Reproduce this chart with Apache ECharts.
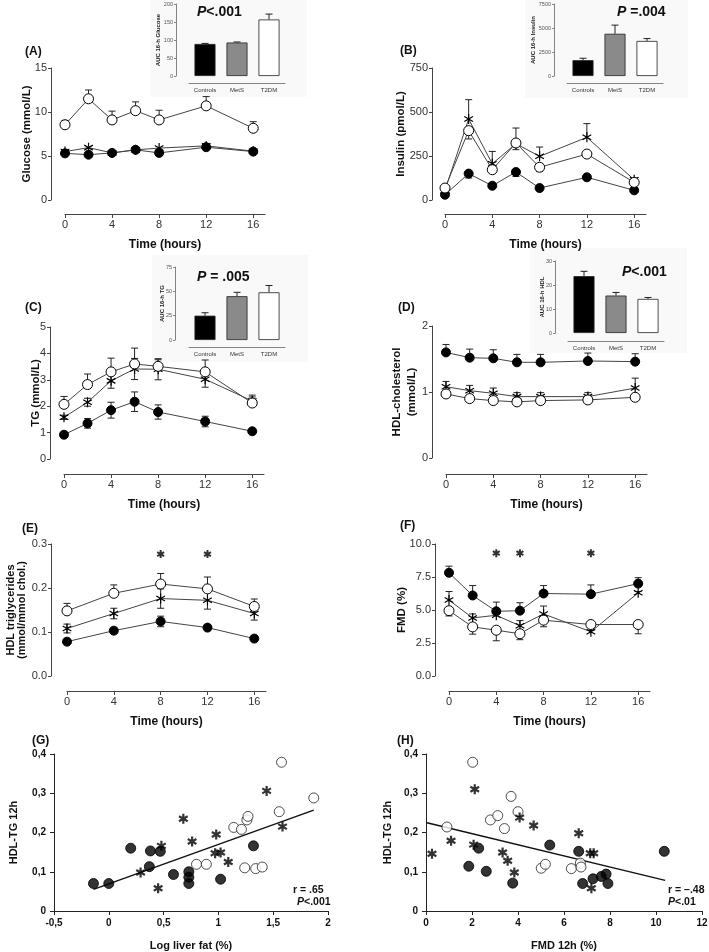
<!DOCTYPE html>
<html><head><meta charset="utf-8">
<script src="https://cdn.jsdelivr.net/npm/echarts@6/dist/echarts.min.js"></script>
<style>html,body{margin:0;padding:0;background:#fff}#c{width:709px;height:952px}</style>
</head><body><div id="c"></div>
<script>
const FONT = '"Liberation Sans", Arial, Helvetica, sans-serif';
// ================= DATA =================
const timesFull = [0, 2, 4, 6, 8, 12, 16];
const timesE = [0, 4, 8, 12, 16];
const timeTicks = [0, 4, 8, 12, 16];
const groupNames = ['Controls', 'MetS', 'T2DM'];

// (A) Glucose (mmol/L)
const glucoseControls = [5.3, 5.15, 5.35, 5.7, 5.35, 6.0, 5.5];
const glucoseMetS     = [5.5, 5.95, 5.35, 5.7, 5.9, 6.15, 5.55];
const glucoseT2DM     = [8.55, 11.5, 9.1, 10.15, 9.1, 10.7, 8.15];
const glucoseT2DMErr  = [0.5, 1.0, 1.0, 1.0, 1.1, 1.05, 0.75];
const aucGlucose      = [89, 93, 157];
const aucGlucoseErr   = [1.5, 1.5, 15];

// (B) Insulin (pmol/L)
const insulinControls    = [30, 150, 81, 159, 68, 129, 55];
const insulinControlsErr = [5, 25, 10, 25, 8, 10, 5];
const insulinMetS        = [55, 460, 206, 320, 248, 356, 115];
const insulinMetSErr     = [10, 110, 70, 89, 53, 78, 10];
const insulinT2DM        = [68, 394, 172, 324, 186, 261, 100];
const insulinT2DMErr     = [10, 47, 15, 38, 23, 10, 10];
const aucInsulin         = [1650, 4400, 3650];
const aucInsulinErr      = [200, 900, 250];

// (C) TG (mmol/L)
const tgControls    = [0.92, 1.35, 1.85, 2.17, 1.78, 1.42, 1.05];
const tgControlsErr = [0.05, 0.18, 0.3, 0.37, 0.27, 0.2, 0.05];
const tgMetS        = [1.58, 2.15, 2.96, 3.41, 3.4, 3.02, 2.2];
const tgMetSErr     = [0.08, 0.15, 0.28, 0.4, 0.4, 0.3, 0.15];
const tgT2DM        = [2.07, 2.82, 3.3, 3.6, 3.51, 3.3, 2.12];
const tgT2DMErr     = [0.3, 0.4, 0.52, 0.6, 0.25, 0.45, 0.3];
const aucTG         = [25, 45, 49];
const aucTGErr      = [3, 4, 7];

// (D) HDL-cholesterol (mmol/L)
const hdlControls    = [1.6, 1.52, 1.51, 1.45, 1.45, 1.47, 1.46];
const hdlControlsErr = [0.12, 0.13, 0.13, 0.12, 0.12, 0.12, 0.12];
const hdlMetS        = [1.08, 1.02, 0.98, 0.93, 0.93, 0.93, 1.06];
const hdlMetSErr     = [0.08, 0.08, 0.08, 0.06, 0.06, 0.06, 0.15];
const hdlT2DM        = [0.97, 0.9, 0.87, 0.85, 0.87, 0.88, 0.92];
const aucHDL         = [23.7, 15.6, 14.2];
const aucHDLErr      = [2, 1.3, 0.6];

// (E) HDL triglycerides (mmol/mmol chol.)
const hdltgControls    = [0.078, 0.103, 0.124, 0.11, 0.085];
const hdltgControlsErr = [0.004, 0.006, 0.012, 0.007, 0.006];
const hdltgMetS        = [0.108, 0.142, 0.176, 0.172, 0.142];
const hdltgMetSErr     = [0.01, 0.012, 0.022, 0.02, 0.015];
const hdltgT2DM        = [0.148, 0.188, 0.209, 0.198, 0.158];
const hdltgT2DMErr     = [0.017, 0.019, 0.024, 0.027, 0.017];
const sigTimesE = [8, 12];
const sigLevelE = 0.277;

// (F) FMD (%)
const fmdControls    = [7.82, 6.1, 4.9, 4.95, 6.25, 6.2, 7.0];
const fmdControlsErr = [0.5, 0.75, 0.7, 0.6, 0.6, 0.7, 0.45];
const fmdMetS        = [5.75, 4.4, 4.6, 3.8, 4.7, 3.35, 6.3];
const fmdMetSErr     = [0.65, 0.3, 0.5, 0.4, 0.6, 0.1, 0.1];
const fmdT2DM        = [4.95, 3.72, 3.47, 3.2, 4.23, 3.9, 3.9];
const fmdT2DMErr     = [0.4, 0.55, 0.8, 0.45, 0.5, 0.2, 0.7];
const sigTimesF = [4, 6, 12];
const sigLevelF = 9.3;

// (G) HDL-TG 12h vs Log liver fat (%)
const gControlsX = [-0.14, 0.0, 0.2, 0.38, 0.37, 0.47, 0.59, 0.73, 0.73, 0.73, 1.02, 1.32];
const gControlsY = [0.07, 0.07, 0.16, 0.153, 0.113, 0.152, 0.093, 0.10, 0.086, 0.07, 0.081, 0.166];
const gMetSX = [0.29, 0.45, 0.48, 0.68, 0.76, 0.98, 0.97, 1.02, 1.09, 1.44, 1.585];
const gMetSY = [0.098, 0.058, 0.166, 0.235, 0.177, 0.195, 0.147, 0.149, 0.125, 0.306, 0.215];
const gT2DMX = [0.80, 0.89, 1.14, 1.21, 1.26, 1.27, 1.24, 1.34, 1.40, 1.555, 1.576, 1.87];
const gT2DMY = [0.119, 0.119, 0.213, 0.208, 0.232, 0.241, 0.110, 0.108, 0.112, 0.253, 0.379, 0.288];
const gFitX = [-0.14, 1.87];
const gFitY = [0.055, 0.257];

// (H) HDL-TG 12h vs FMD 12h (%)
const hControlsX = [1.86, 2.29, 2.62, 3.77, 5.38, 6.64, 6.81, 7.26, 7.62, 7.83, 7.91, 10.36];
const hControlsY = [0.114, 0.160, 0.101, 0.071, 0.168, 0.152, 0.070, 0.082, 0.088, 0.094, 0.070, 0.152];
const hMetSX = [0.26, 1.09, 2.12, 2.07, 3.33, 3.55, 3.84, 4.07, 4.68, 6.64, 7.14, 7.29, 7.19];
const hMetSY = [0.146, 0.179, 0.310, 0.169, 0.149, 0.128, 0.098, 0.238, 0.218, 0.198, 0.147, 0.147, 0.058];
const hT2DMX = [0.91, 2.03, 2.80, 3.12, 3.41, 3.70, 4.0, 5.01, 5.19, 6.32, 6.71, 6.74];
const hT2DMY = [0.214, 0.379, 0.232, 0.243, 0.210, 0.292, 0.253, 0.109, 0.119, 0.108, 0.122, 0.112];
const hFitX = [0.04, 10.4];
const hFitY = [0.225, 0.078];

// ================= BUILD =================
const AX = '#444', TX = '#333';
const STAR = 'path://M0,-1L0,1M-0.866,-0.5L0.866,0.5M-0.866,0.5L0.866,-0.5';
const MK = {
  Controls: { symbol: 'circle', symbolSize: 9, itemStyle: { color: '#000', borderColor: '#000', borderWidth: 1 } },
  MetS: { symbol: STAR, symbolSize: 10, itemStyle: { color: '#000', borderColor: '#000', borderWidth: 1.2 } },
  T2DM: { symbol: 'circle', symbolSize: 10, itemStyle: { color: '#fff', borderColor: '#000', borderWidth: 1 } }
};
const grids = [], xAxes = [], yAxes = [], series = [];
const pairs = (xs, ys) => xs.map((x, i) => [x, ys[i]]);
const errData = (xs, ys, es, dir) => xs.map((x, i) => [x, ys[i], es[i], dir]);

function errRender(params, api) {
  const x = api.value(0), y = api.value(1), e = api.value(2), dir = api.value(3);
  const lo = dir > 0 ? y : y - e;
  const hi = dir < 0 ? y : y + e;
  const pLo = api.coord([x, lo]), pHi = api.coord([x, hi]);
  const hw = 3.5, st = { stroke: '#222', lineWidth: 1 };
  const ch = [{ type: 'line', shape: { x1: pLo[0], y1: pLo[1], x2: pHi[0], y2: pHi[1] }, style: st }];
  if (dir >= 0) ch.push({ type: 'line', shape: { x1: pHi[0] - hw, y1: pHi[1], x2: pHi[0] + hw, y2: pHi[1] }, style: st });
  if (dir <= 0) ch.push({ type: 'line', shape: { x1: pLo[0] - hw, y1: pLo[1], x2: pLo[0] + hw, y2: pLo[1] }, style: st });
  return { type: 'group', children: ch };
}

function linePanel(cfg) {
  const gi = grids.length;
  grids.push({ left: cfg.left, top: cfg.top, width: cfg.width, height: cfg.height, containLabel: false, outerBoundsMode: 'none' });
  xAxes.push({
    type: 'value', gridIndex: gi, min: 0, max: 17, interval: 4, offset: cfg.xOff, position: 'bottom',
    axisLine: { show: true, onZero: false, lineStyle: { color: AX, width: 1 } },
    axisTick: { show: true, length: 4, lineStyle: { color: AX }, customValues: timeTicks },
    axisLabel: { fontSize: 11, color: TX, fontFamily: FONT, margin: 5, customValues: timeTicks },
    splitLine: { show: false },
    name: 'Time (hours)', nameLocation: 'middle', nameGap: 25, nameMoveOverlap: false,
    nameTextStyle: { fontSize: 12, fontWeight: 'bold', color: '#111', fontFamily: FONT }
  });
  yAxes.push({
    type: 'value', gridIndex: gi, min: 0, max: cfg.ymax, interval: cfg.yint, offset: cfg.yOff, position: 'left',
    axisLine: { show: true, onZero: false, lineStyle: { color: AX, width: 1 } },
    axisTick: { show: true, length: 3, lineStyle: { color: AX } },
    axisLabel: { fontSize: 11, color: TX, fontFamily: FONT, margin: 4, formatter: cfg.yfmt || (v => String(v)) },
    splitLine: { show: false },
    name: cfg.yname, nameLocation: 'middle', nameRotate: 90, nameGap: cfg.yNameGap, nameMoveOverlap: false,
    nameTextStyle: { fontSize: cfg.yNameSize || 11.5, fontWeight: 'bold', color: '#111', fontFamily: FONT, lineHeight: cfg.yNameLH || 15 }
  });
  cfg.groups.forEach(g => {
    if (g.err) {
      series.push({ type: 'custom', xAxisIndex: gi, yAxisIndex: gi, z: 1, silent: true,
        renderItem: errRender, encode: { x: 0, y: 1 }, data: errData(cfg.times, g.values, g.err, g.dir) });
    }
  });
  cfg.groups.forEach(g => {
    const mk = MK[g.name];
    series.push({ type: 'line', xAxisIndex: gi, yAxisIndex: gi, z: 3, silent: true, animation: false,
      data: pairs(cfg.times, g.values), symbol: mk.symbol, symbolSize: mk.symbolSize, showAllSymbol: true,
      symbolKeepAspect: true, itemStyle: mk.itemStyle, lineStyle: { color: '#444', width: 1 } });
  });
  if (cfg.sig) {
    series.push({ type: 'scatter', xAxisIndex: gi, yAxisIndex: gi, z: 3, silent: true,
      data: cfg.sig.map(t => [t, cfg.sigLevel]), symbol: STAR, symbolSize: 8, symbolKeepAspect: true,
      itemStyle: { color: '#000', borderColor: '#000', borderWidth: 2 } });
  }
}

function insetPanel(cfg) {
  const gi = grids.length;
  grids.push({ left: cfg.left, top: cfg.top, width: 96, height: cfg.height, containLabel: false, outerBoundsMode: 'none' });
  xAxes.push({
    type: 'category', gridIndex: gi, data: groupNames, offset: cfg.xOff, position: 'bottom',
    axisLine: { show: true, onZero: false, lineStyle: { color: '#666', width: 0.8 } },
    axisTick: { show: false },
    axisLabel: { fontSize: 6, color: TX, fontFamily: FONT, margin: 4, interval: 0 }
  });
  yAxes.push({
    type: 'value', gridIndex: gi, min: 0, max: cfg.ymax, interval: cfg.yint, offset: cfg.yOff, position: 'left',
    axisLine: { show: true, onZero: false, lineStyle: { color: '#666', width: 0.8 } },
    axisTick: { show: true, length: 2, lineStyle: { color: '#666', width: 0.8 } },
    axisLabel: { fontSize: 5.5, color: '#555', fontFamily: FONT, margin: 3, formatter: v => String(v) },
    splitLine: { show: false },
    name: cfg.yname, nameLocation: 'middle', nameRotate: 90, nameGap: cfg.yNameGap, nameMoveOverlap: false,
    nameTextStyle: { fontSize: 6, fontWeight: 'bold', color: '#222', fontFamily: FONT }
  });
  const fills = ['#000', '#8a8a8a', '#fff'];
  series.push({ type: 'custom', xAxisIndex: gi, yAxisIndex: gi, z: 1, silent: true,
    renderItem: errRender, encode: { x: 0, y: 1 }, data: cfg.values.map((v, i) => [i, v, cfg.err[i], 1]) });
  series.push({ type: 'bar', xAxisIndex: gi, yAxisIndex: gi, z: 2, silent: true, barWidth: 21,
    data: cfg.values.map((v, i) => ({ value: v, itemStyle: { color: fills[i], borderColor: '#222', borderWidth: 0.8 } })) });
}

function scatterPanel(cfg) {
  const gi = grids.length;
  grids.push({ left: cfg.left, top: cfg.top, width: cfg.width, height: cfg.height, containLabel: false, outerBoundsMode: 'none' });
  const comma = v => (v === 0 ? '0' : String(+v.toFixed(1)).replace('.', ','));
  xAxes.push({
    type: 'value', gridIndex: gi, min: cfg.xmin, max: cfg.xmax, interval: cfg.xint, position: 'bottom',
    axisLine: { show: true, onZero: false, lineStyle: { color: '#222', width: 1 } },
    axisTick: { show: true, length: 4, lineStyle: { color: '#222' } },
    axisLabel: { fontSize: 10, fontWeight: 'bold', color: '#111', fontFamily: FONT, margin: 7, formatter: comma },
    splitLine: { show: false },
    name: cfg.xname, nameLocation: 'middle', nameGap: 29, nameMoveOverlap: false,
    nameTextStyle: { fontSize: 11, fontWeight: 'bold', color: '#111', fontFamily: FONT }
  });
  yAxes.push({
    type: 'value', gridIndex: gi, min: 0, max: 0.4, interval: 0.1, position: 'left',
    axisLine: { show: true, onZero: false, lineStyle: { color: '#222', width: 1 } },
    axisTick: { show: true, length: 4, lineStyle: { color: '#222' } },
    axisLabel: { fontSize: 10, fontWeight: 'bold', color: '#111', fontFamily: FONT, margin: 8, formatter: comma },
    splitLine: { show: false },
    name: 'HDL-TG 12h', nameLocation: 'middle', nameRotate: 90, nameGap: cfg.yNameGap, nameMoveOverlap: false,
    nameTextStyle: { fontSize: 11, fontWeight: 'bold', color: '#111', fontFamily: FONT }
  });
  series.push({ type: 'line', xAxisIndex: gi, yAxisIndex: gi, z: 2, silent: true, symbol: 'none',
    data: pairs(cfg.fitX, cfg.fitY), lineStyle: { color: '#111', width: 1.5 } });
  const sty = {
    Controls: { symbol: 'circle', symbolSize: 10, itemStyle: { color: '#000', borderColor: '#000', borderWidth: 1 } },
    T2DM: { symbol: 'circle', symbolSize: 10, itemStyle: { color: '#fff', borderColor: '#222', borderWidth: 1 } },
    MetS: { symbol: STAR, symbolSize: 10, itemStyle: { color: '#000', borderColor: '#000', borderWidth: 2.2 } }
  };
  cfg.groups.forEach(g => {
    const s = sty[g.name];
    series.push({ type: 'scatter', xAxisIndex: gi, yAxisIndex: gi, z: 3, silent: true,
      data: pairs(g.x, g.y), symbol: s.symbol, symbolSize: s.symbolSize, symbolKeepAspect: true, itemStyle: s.itemStyle });
  });
}

// Panels
linePanel({ left: 65, top: 68, width: 200, height: 132, xOff: 14, yOff: 14, ymax: 15, yint: 5,
  yname: 'Glucose (mmol/L)', yNameGap: 17, times: timesFull,
  groups: [
    { name: 'Controls', values: glucoseControls },
    { name: 'MetS', values: glucoseMetS },
    { name: 'T2DM', values: glucoseT2DM, err: glucoseT2DMErr, dir: 1 }] });
linePanel({ left: 445, top: 68, width: 201, height: 132, xOff: 14, yOff: 13, ymax: 750, yint: 250,
  yname: 'Insulin (pmol/L)', yNameGap: 24, times: timesFull,
  groups: [
    { name: 'Controls', values: insulinControls, err: insulinControlsErr, dir: -1 },
    { name: 'MetS', values: insulinMetS, err: insulinMetSErr, dir: 1 },
    { name: 'T2DM', values: insulinT2DM, err: insulinT2DMErr, dir: -1 }] });
linePanel({ left: 64, top: 327, width: 200, height: 132, xOff: 15, yOff: 14, ymax: 5, yint: 1,
  yname: 'TG (mmol/L)', yNameGap: 7, times: timesFull,
  groups: [
    { name: 'Controls', values: tgControls, err: tgControlsErr, dir: 0 },
    { name: 'MetS', values: tgMetS, err: tgMetSErr, dir: 0 },
    { name: 'T2DM', values: tgT2DM, err: tgT2DMErr, dir: 1 }] });
linePanel({ left: 446, top: 326, width: 201, height: 132, xOff: 16, yOff: 14, ymax: 2, yint: 1,
  yname: 'HDL-cholesterol\n(mmol/L)', yNameGap: 13, times: timesFull,
  groups: [
    { name: 'Controls', values: hdlControls, err: hdlControlsErr, dir: 1 },
    { name: 'MetS', values: hdlMetS, err: hdlMetSErr, dir: 1 },
    { name: 'T2DM', values: hdlT2DM }] });
linePanel({ left: 67, top: 544, width: 199, height: 132, xOff: 15, yOff: 16, ymax: 0.3, yint: 0.1,
  yfmt: v => v.toFixed(1), yname: 'HDL triglycerides\n(mmol/mmol chol.)', yNameGap: 23, yNameSize: 11, yNameLH: 11.5,
  times: timesE, sig: sigTimesE, sigLevel: sigLevelE,
  groups: [
    { name: 'Controls', values: hdltgControls, err: hdltgControlsErr, dir: 0 },
    { name: 'MetS', values: hdltgMetS, err: hdltgMetSErr, dir: 0 },
    { name: 'T2DM', values: hdltgT2DM, err: hdltgT2DMErr, dir: 1 }] });
linePanel({ left: 449, top: 544, width: 201, height: 132, xOff: 15, yOff: 14, ymax: 10, yint: 2.5,
  yfmt: v => v.toFixed(1), yname: 'FMD (%)', yNameGap: 26, times: timesFull,
  sig: sigTimesF, sigLevel: sigLevelF,
  groups: [
    { name: 'Controls', values: fmdControls, err: fmdControlsErr, dir: 1 },
    { name: 'MetS', values: fmdMetS, err: fmdMetSErr, dir: 1 },
    { name: 'T2DM', values: fmdT2DM, err: fmdT2DMErr, dir: -1 }] });

insetPanel({ left: 189, top: 4, height: 72, xOff: 7, yOff: 13, ymax: 200, yint: 50,
  yname: 'AUC 16-h Glucose', yNameGap: 15, values: aucGlucose, err: aucGlucoseErr });
insetPanel({ left: 567, top: 4, height: 72, xOff: 7, yOff: 13, ymax: 7500, yint: 2500,
  yname: 'AUC 16-h Insulin', yNameGap: 18, values: aucInsulin, err: aucInsulinErr });
insetPanel({ left: 189, top: 267, height: 73, xOff: 7, yOff: 14, ymax: 75, yint: 25,
  yname: 'AUC 16-h TG', yNameGap: 10, values: aucTG, err: aucTGErr });
insetPanel({ left: 568, top: 261, height: 72, xOff: 8, yOff: 13, ymax: 30, yint: 10,
  yname: 'AUC 16-h HDL', yNameGap: 10, values: aucHDL, err: aucHDLErr });

scatterPanel({ left: 54, top: 754, width: 274, height: 157, xmin: -0.5, xmax: 2, xint: 0.5,
  xname: 'Log liver fat (%)', yNameGap: 35, fitX: gFitX, fitY: gFitY,
  groups: [{ name: 'Controls', x: gControlsX, y: gControlsY }, { name: 'T2DM', x: gT2DMX, y: gT2DMY }, { name: 'MetS', x: gMetSX, y: gMetSY }] });
scatterPanel({ left: 426, top: 754, width: 276, height: 157, xmin: 0, xmax: 12, xint: 2,
  xname: 'FMD 12h (%)', yNameGap: 33, fitX: hFitX, fitY: hFitY,
  groups: [{ name: 'Controls', x: hControlsX, y: hControlsY }, { name: 'T2DM', x: hT2DMX, y: hT2DMY }, { name: 'MetS', x: hMetSX, y: hMetSY }] });

// Annotations
const lbl = (t, x, y) => ({ type: 'text', x, y, silent: true,
  style: { text: t, fontSize: 12, fontWeight: 'bold', fontFamily: FONT, fill: '#111', textVerticalAlign: 'middle' } });
const pTxt = (t, x, y) => ({ type: 'text', x, y, silent: true,
  style: { text: t, rich: { i: { fontStyle: 'italic', fontWeight: 'bold', fontSize: 14, fontFamily: FONT, fill: '#111' } },
    fontSize: 14, fontWeight: 'bold', fontFamily: FONT, fill: '#111', textVerticalAlign: 'middle' } });
const rTxt = (t, x, y) => ({ type: 'text', x, y, silent: true,
  style: { text: t, rich: { i: { fontStyle: 'italic', fontWeight: 'bold', fontSize: 10.5, fontFamily: FONT, fill: '#111' } },
    fontSize: 10.5, fontWeight: 'bold', fontFamily: FONT, fill: '#111', textVerticalAlign: 'middle' } });
const bg = (x, y, w, h) => ({ type: 'rect', z: -100, silent: true, shape: { x, y, width: w, height: h }, style: { fill: '#f9f9f9' } });

const option = {
  animation: false,
  backgroundColor: '#fff',
  grid: grids, xAxis: xAxes, yAxis: yAxes, series: series,
  graphic: { elements: [
    bg(150, 0, 157, 97), bg(525, 0, 163, 98), bg(152, 255, 156, 107), bg(530, 248, 157, 105),
    lbl('(A)', 25, 52), lbl('(B)', 400, 51), lbl('(C)', 25, 308), lbl('(D)', 398, 308),
    lbl('(E)', 22, 529), lbl('(F)', 400, 526), lbl('(G)', 32, 741), lbl('(H)', 397, 741),
    pTxt('{i|P}<.001', 197, 12), pTxt('{i|P} =.004', 617, 12), pTxt('{i|P} = .005', 197, 277), pTxt('{i|P}<.001', 622, 272),
    rTxt('r = .65', 293, 890), rTxt('{i|P}<.001', 297, 902),
    rTxt('r = \u2013.48', 668, 890), rTxt('{i|P}<.01', 668, 902)
  ] }
};
const chart = echarts.init(document.getElementById('c'), null, { renderer: 'canvas' });
chart.setOption(option);
</script></body></html>
